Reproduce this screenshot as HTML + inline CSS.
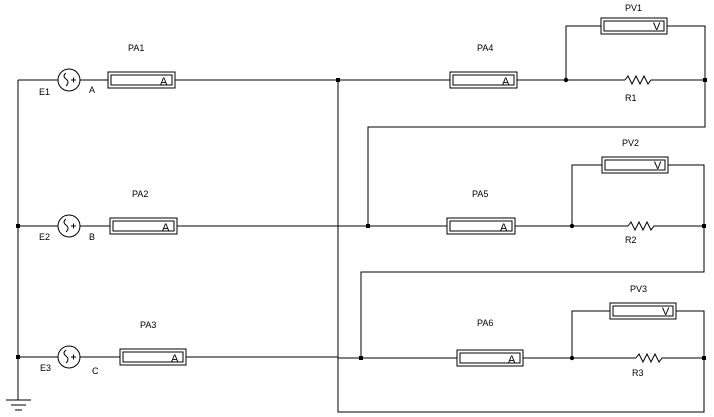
<!DOCTYPE html><html><head><style>body{margin:0;background:#fff}svg{display:block}text{font-family:"Liberation Sans",sans-serif;font-size:9px;fill:#000}.m{font-size:11px}</style></head><body>
<svg width="714" height="417" viewBox="0 0 714 417" xmlns="http://www.w3.org/2000/svg">
<g stroke="#000" stroke-width="1" fill="none">
<path d="M18 80V400"/>
<path d="M6 400H31M11 405H26M15 410H22"/>
<path d="M18 80H58M80 80H108M175 80H450M517 80H625"/>
<path d="M625 80l3-4 4 8 4-8 4 8 4-8 4 8 3-4H705"/>
<path d="M566 80V26H601M667 26H705V127H368V226"/>
<path d="M18 226H58M80 226H110M177 226H447M515 226H628"/>
<path d="M628 226l3-4 4 8 4-8 4 8 4-8 4 8 3-4H704"/>
<path d="M572 226V165H602M668 165H704V272H361V358"/>
<path d="M18 357H58M80 357H120M186 357H338"/>
<path d="M338 80V412H704V311H676M610 311H572V358"/>
<path d="M338 358H457M523 358H636"/>
<path d="M636 358l3-4 4 8 4-8 4 8 4-8 4 8 3-4H704"/>
<circle cx="69" cy="80" r="11"/><circle cx="69" cy="226" r="11"/><circle cx="69" cy="357" r="11"/>
<path d="M66 73q-4 3 0 6t0 7M66 219q-4 3 0 6t0 7M66 350q-4 3 0 6t0 7"/>
<path d="M71 80h5M73.5 77.5v5M71 226h5M73.5 223.5v5M71 357h5M73.5 354.5v5"/>
<rect x="108" y="72" width="67" height="16"/><rect x="111" y="75" width="61" height="10"/>
<rect x="110" y="218" width="67" height="16"/><rect x="113" y="221" width="61" height="10"/>
<rect x="120" y="349" width="66" height="16"/><rect x="123" y="352" width="60" height="10"/>
<rect x="450" y="72" width="67" height="16"/><rect x="453" y="75" width="61" height="10"/>
<rect x="447" y="218" width="68" height="16"/><rect x="450" y="221" width="62" height="10"/>
<rect x="457" y="350" width="66" height="16"/><rect x="460" y="353" width="60" height="10"/>
<rect x="601" y="18" width="66" height="16"/><rect x="604" y="21" width="60" height="10"/>
<rect x="602" y="157" width="66" height="16"/><rect x="605" y="160" width="60" height="10"/>
<rect x="610" y="303" width="66" height="16"/><rect x="613" y="306" width="60" height="10"/>
</g>
<g fill="#000">
<rect x="16" y="224" width="4" height="4"/><rect x="16" y="355" width="4" height="4"/>
<rect x="336" y="78" width="4" height="4"/>
<circle cx="566" cy="80" r="2.2"/><rect x="703" y="78" width="4" height="4"/>
<rect x="366" y="224" width="4" height="4"/><circle cx="572" cy="226" r="2.2"/><rect x="702" y="224" width="4" height="4"/>
<rect x="359" y="356" width="4" height="4"/><circle cx="572" cy="358" r="2.2"/><rect x="702" y="356" width="4" height="4"/>
</g>
<text x="128" y="51">PA1</text><text x="132" y="197">PA2</text><text x="140" y="328">PA3</text>
<text x="477" y="51">PA4</text><text x="472" y="197">PA5</text><text x="477" y="326">PA6</text>
<text x="625" y="11">PV1</text><text x="622" y="146">PV2</text><text x="630" y="292">PV3</text>
<text x="625" y="101">R1</text><text x="625" y="243">R2</text><text x="632" y="376">R3</text>
<text x="39" y="95">E1</text><text x="39" y="240">E2</text><text x="40" y="371">E3</text>
<text x="89" y="93">A</text><text x="89" y="240">B</text><text x="92" y="374">C</text>
<text class="m" x="160" y="85">A</text><text class="m" x="162" y="231">A</text><text class="m" x="171" y="362">A</text>
<text class="m" x="502" y="85">A</text><text class="m" x="500" y="231">A</text><text class="m" x="508" y="363">A</text>
<text class="m" x="653" y="30">V</text><text class="m" x="654" y="169">V</text><text class="m" x="662" y="315">V</text>
</svg></body></html>
